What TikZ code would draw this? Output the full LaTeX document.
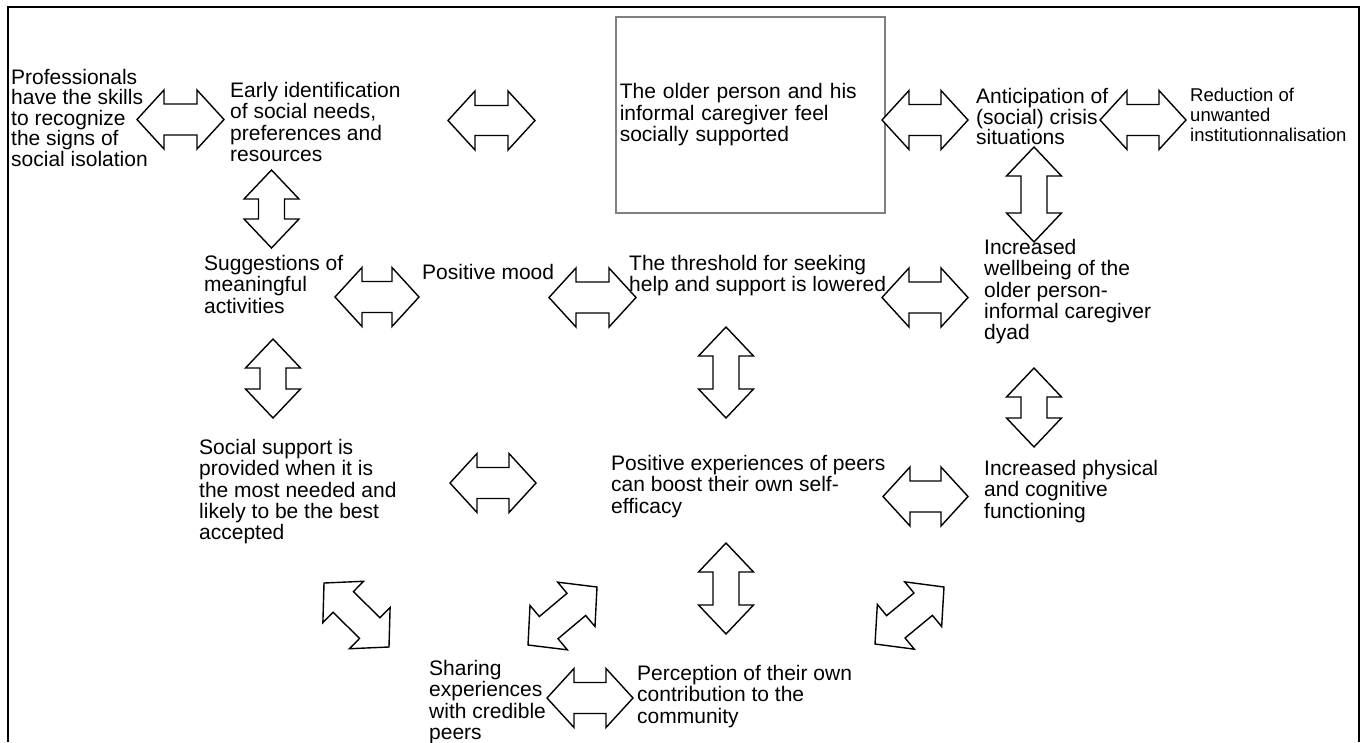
\documentclass[tikz,border=0pt]{standalone}
\usepackage{fontspec}
\setmainfont{Liberation Sans}
\usetikzlibrary{calc}

% double block arrow between two named points:
% #1 start, #2 end, #3 head length, #4 half head width, #5 half shaft width
\newcommand{\dblarrow}[5]{%
  \draw[blockline] (#1)
    -- ($(#1)!#3!(#2)!#4!90:(#2)$)
    -- ($(#1)!#3!(#2)!#5!90:(#2)$)
    -- ($(#2)!#3!(#1)!#5!-90:(#1)$)
    -- ($(#2)!#3!(#1)!#4!-90:(#1)$)
    -- (#2)
    -- ($(#2)!#3!(#1)!#4!90:(#1)$)
    -- ($(#2)!#3!(#1)!#5!90:(#1)$)
    -- ($(#1)!#3!(#2)!#5!-90:(#2)$)
    -- ($(#1)!#3!(#2)!#4!-90:(#2)$)
    -- cycle;}

\begin{document}
\begin{tikzpicture}[x=1pt, y=-1pt,
  txt/.style={anchor=north west, inner sep=0pt, align=left, font=\fontsize{21}{21.3}\selectfont},
  tighttxt/.style={txt, font=\fontsize{21}{20.5}\selectfont},
  smalltxt/.style={txt, font=\fontsize{18.5}{20}\selectfont},
  oldbox/.style={draw=gray, line width=1.5pt, anchor=north west, minimum width=269, minimum height=196,
    text width=261, inner xsep=4pt, inner ysep=0pt, align=left, font=\fontsize{21}{21.3}\selectfont},
  blockline/.style={draw=black, line width=1.4pt, fill=white, line join=miter},
  frame/.style={line width=2.5pt}
]
\useasboundingbox (0,0) rectangle (1365,742);

% Frame
\draw[frame] (8,742) -- (8,7) -- (1359,7) -- (1359,742);

% First row
\node[tighttxt] (prof) at (11,69) {Professionals\\have the skills\\to recognize\\the signs of\\social isolation};
\node[txt] (early) at (230,82) {Early identification\\of social needs,\\preferences and\\resources};
\node[oldbox] (older) at (615,16) {The older person and his\\informal caregiver feel\\socially supported};
\node[tighttxt] (anticip) at (976,88.5) {Anticipation of\\(social) crisis\\situations};
\node[smalltxt] (reduce) at (1190,88) {Reduction of\\unwanted\\institutionnalisation};

% Second row
\node[txt] (suggest) at (204,255) {Suggestions of\\meaningful\\activities};
\node[txt] (mood) at (422,264) {Positive mood};
\node[txt] (threshold) at (629,255) {The threshold for seeking\\help and support is lowered};
\node[txt] (wellbeing) at (984,239) {Increased\\wellbeing of the\\older person-\\informal caregiver\\dyad};

% Third row
\node[txt] (support) at (199,439) {Social support is\\provided when it is\\the most needed and\\likely to be the best\\accepted};
\node[txt] (peers) at (611,455) {Positive experiences of peers\\can boost their own self-\\efficacy};
\node[txt] (physical) at (984,460) {Increased physical\\and cognitive\\functioning};

% Bottom row
\node[txt] (sharing) at (429,660) {Sharing\\experiences\\with credible\\peers};
\node[txt] (contrib) at (637,665) {Perception of their own\\contribution to the\\community};

% Arrow ends
\coordinate (h1a) at (137,119.5); \coordinate (h1b) at (224,119.5);
\coordinate (h2a) at (448,120.5); \coordinate (h2b) at (535,120.5);
\coordinate (h3a) at (882,120);   \coordinate (h3b) at (968,120);
\coordinate (h4a) at (1100,120);  \coordinate (h4b) at (1186,120);
\coordinate (h5a) at (335,297);   \coordinate (h5b) at (419,297);
\coordinate (h6a) at (549,297.5); \coordinate (h6b) at (636,297.5);
\coordinate (h7a) at (882,297.5); \coordinate (h7b) at (968,297.5);
\coordinate (h8a) at (450,483);   \coordinate (h8b) at (536,483);
\coordinate (h9a) at (883,496.5); \coordinate (h9b) at (968,496.5);
\coordinate (h10a) at (547,698);  \coordinate (h10b) at (633,698);
\coordinate (v1a) at (271.5,170); \coordinate (v1b) at (271.5,248);
\coordinate (v2a) at (1034,147);  \coordinate (v2b) at (1034,242);
\coordinate (v3a) at (273,339);   \coordinate (v3b) at (273,418);
\coordinate (v4a) at (726,327);   \coordinate (v4b) at (726,418);
\coordinate (v5a) at (1034,368);  \coordinate (v5b) at (1034,447);
\coordinate (v6a) at (726,543);   \coordinate (v6b) at (726,634);
\coordinate (d1a) at (324,583);   \coordinate (d1b) at (389,647);
\coordinate (d2a) at (528,645);   \coordinate (d2b) at (597,587);
\coordinate (d3a) at (875,644);   \coordinate (d3b) at (944,587);

% Block arrows
\dblarrow{h1a}{h1b}{27pt}{29.5pt}{15.5pt}
\dblarrow{h2a}{h2b}{27pt}{29.5pt}{15pt}
\dblarrow{h3a}{h3b}{27pt}{29.5pt}{15.5pt}
\dblarrow{h4a}{h4b}{27pt}{29.5pt}{15.5pt}
\dblarrow{h5a}{h5b}{27pt}{29.5pt}{15.5pt}
\dblarrow{h6a}{h6b}{27pt}{29.5pt}{15.5pt}
\dblarrow{h7a}{h7b}{27pt}{29.5pt}{15.5pt}
\dblarrow{h8a}{h8b}{27pt}{29.5pt}{15.5pt}
\dblarrow{h9a}{h9b}{27pt}{29.5pt}{15.5pt}
\dblarrow{h10a}{h10b}{27pt}{29.5pt}{15.5pt}
\dblarrow{v1a}{v1b}{29pt}{27.5pt}{13pt}
\dblarrow{v2a}{v2b}{29pt}{27.5pt}{13pt}
\dblarrow{v3a}{v3b}{29pt}{27.5pt}{13pt}
\dblarrow{v4a}{v4b}{29pt}{27.5pt}{13pt}
\dblarrow{v5a}{v5b}{29pt}{27.5pt}{13pt}
\dblarrow{v6a}{v6b}{29pt}{27.5pt}{13pt}
\dblarrow{d1a}{d1b}{27pt}{29pt}{14.5pt}
\dblarrow{d2a}{d2b}{27pt}{29pt}{14.5pt}
\dblarrow{d3a}{d3b}{27pt}{29pt}{14.5pt}

\end{tikzpicture}
\end{document}
